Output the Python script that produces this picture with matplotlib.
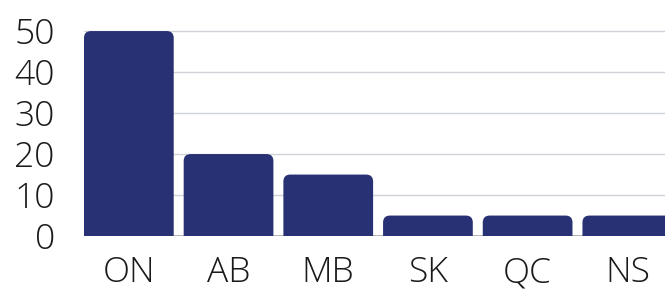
import matplotlib
matplotlib.use('Agg')
import matplotlib.pyplot as plt
from matplotlib.patches import FancyBboxPatch
import numpy as np

provinces = ['ON', 'AB', 'MB', 'SK', 'QC', 'NS']
counts = [50, 20, 15, 5, 5, 5]
y_ticks = [0, 10, 20, 30, 40, 50]

plt.rcParams['font.family'] = ['Open Sans', 'DejaVu Sans']

fig = plt.figure(figsize=(6.65, 2.9), dpi=100)
ax = fig.add_axes([0.1263, 0.186, 0.874, 0.7776])

index = np.arange(len(provinces))
bars = ax.bar(index, counts, 0.9, color='#283174')

# swap the plain bars for ones with rounded tops
for b in bars:
    x, y = b.get_x(), b.get_y()
    w, h = b.get_width(), b.get_height()
    b.set_visible(False)
    rb = FancyBboxPatch((x, y - 3), w, h + 3,
                        boxstyle='round,pad=0,rounding_size=0.07',
                        mutation_aspect=24, facecolor='#283174',
                        edgecolor='none', zorder=3)
    ax.add_patch(rb)

ax.set_xlim(-0.45, 5.38)
ax.set_ylim(0, 55)
ax.set_yticks(y_ticks)
ax.set_xticks(index)
ax.set_xticklabels(provinces)
for t in ax.get_yticks()[1:]:
    ax.axhline(t, color='#d0d3d8', lw=1.0, zorder=1)
ax.axhline(0, color='#a8a8a8', lw=1.2, zorder=1)

for s in ax.spines.values():
    s.set_visible(False)
ax.tick_params(length=0)
ax.tick_params(axis='y', pad=21, labelsize=25.5)
ax.tick_params(axis='x', pad=14, labelsize=25.5)
for lbl in ax.get_xticklabels() + ax.get_yticklabels():
    lbl.set_fontweight('light')
    lbl.set_color('#1a1a1a')

fig.savefig('out.png', dpi=100)
